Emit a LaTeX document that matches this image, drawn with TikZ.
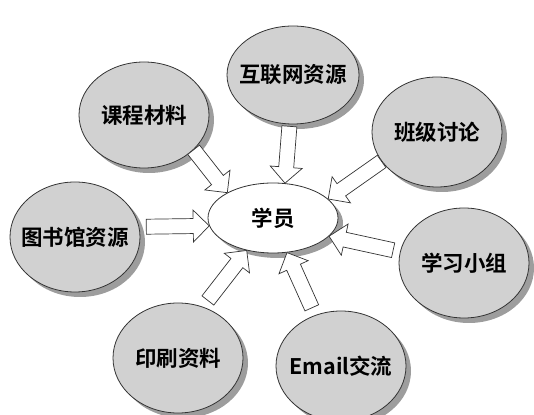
\documentclass[tikz,border=0pt]{standalone}
\usepackage{fontspec}
\setmainfont{Noto Sans CJK SC}[BoldFont={Noto Sans CJK SC Bold}]
\usetikzlibrary{calc,shadows,shapes.geometric}
\tikzset{
  res/.style={ellipse, draw=black!80, line width=0.8pt, fill=black!18,
    minimum width=130pt, minimum height=110pt, inner sep=0pt,
    font=\fontsize{21.5}{24}\selectfont\bfseries,
    drop shadow={shadow xshift=5pt, shadow yshift=-5pt, fill=black!45, opacity=.85}},
  center/.style={res, fill=white, minimum width=130pt, minimum height=70pt},
  blk/.style={draw=black!80, line width=0.7pt, fill=white, line join=miter}
}
\newcommand\lbl[1]{\makebox[0pt]{#1}}
\newcommand\blockarrow[3]{%
  \draw[blk] let \p1=(#1), \p2=(#2),
    \n1={atan2(\y2-\y1,\x2-\x1)}, \n2={veclen(\x2-\x1,\y2-\y1)} in
    [shift={(\p1)}, rotate=\n1]
    (#3,-7.5) -- (\n2-16,-7.5) -- (\n2-16,-16) -- (\n2,0) -- (\n2-16,16)
    -- (\n2-16,7.5) -- (#3,7.5) -- cycle;}
\begin{document}
\begin{tikzpicture}[x=1pt,y=1pt]
\useasboundingbox (0,0) rectangle (534,414);
\node[center] (xy) at (273,196) {\lbl{学员}};
\node[res, minimum height=106pt] (kc) at (144,299) {\lbl{课程材料}};
\node[res, minimum width=132pt, minimum height=98pt] (hl) at (293,339) {\lbl{互联网资源}};
\node[res] (bj) at (437,282) {\lbl{班级讨论}};
\node[res] (ts) at (75,177) {\lbl{图书馆资源}};
\node[res] (xx) at (464,151) {\lbl{学习小组}};
\node[res] (ys) at (178,56) {\lbl{印刷资料}};
\node[res] (em) at (341,48) {\lbl{Email交流}};
\blockarrow{kc.-35}{xy.151}{0}
\blockarrow{hl.-94}{xy.71}{2}
\blockarrow{bj.208}{xy.19}{0}
\blockarrow{ts.9}{xy.187}{7}
\blockarrow{xx.170}{xy.-18}{7}
\blockarrow{ys.64}{xy.231}{8}
\blockarrow{em.117}{xy.-68}{8}
\end{tikzpicture}
\end{document}
